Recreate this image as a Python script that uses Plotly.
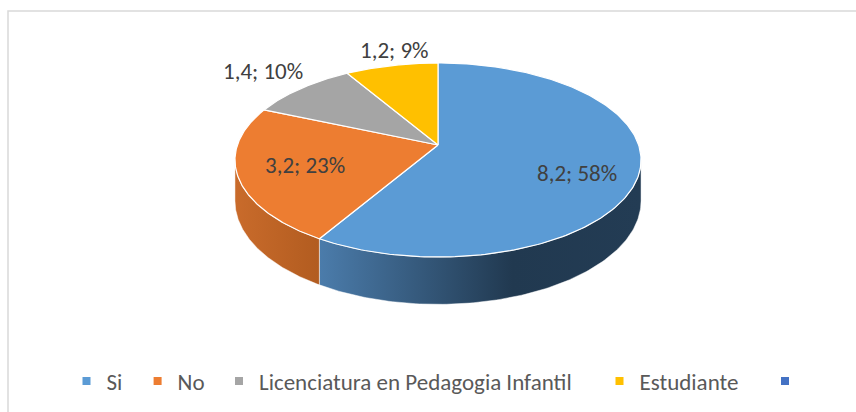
import numpy as np
import plotly.graph_objects as go

# ---------------- data ----------------
categories = ["Si", "No", "Licenciatura en Pedagogia Infantil", "Estudiante"]
values = [8.2, 3.2, 1.4, 1.2]
percent_labels = [58, 23, 10, 9]
extra_legend_name = " "

# ---------------- style ----------------
top_colors = ["#5B9BD5", "#ED7D31", "#A5A5A5", "#FFC000"]
side_scales = [
    [[0, "#4b7cab"], [0.6, "#213950"], [1, "#233c54"]],
    [[0, "#c96b2b"], [1, "#b25c20"]],
    [[0, "#8a8a8a"], [1, "#6e6e6e"]],
    [[0, "#d9a300"], [1, "#b88a00"]],
]
extra_legend_color = "#4472C4"
label_radius = [0.70, 0.70, 1.25, 1.24]
label_dx = [0, 5, -7, 12]
label_dy = [10, -1, -5, 1]
FONT = "Carlito, Calibri, Lato, sans-serif"
FSIZE = 23

# geometry of the projected pie (pixel-like axis units)
W, H = 856, 412
CX, CY = 438.0, 145.0
A, B = 200.6, 94.7
K = 0.1547      # perspective strength
D = 40.0        # thickness


def proj(phi, r=1.0, drop=0.0):
    u = r * np.sin(phi)
    v = r * np.cos(phi)
    w = 1 + K * v
    return CX + A * u / w, CY - B * v / w + drop / w


fig = go.Figure()

total = sum(values)
bounds = np.concatenate([[0], np.cumsum(values)]) / total * 2 * np.pi
vis_lo = np.arccos(-K)
vis_hi = 2 * np.pi - vis_lo

# side walls
for i in range(len(values)):
    a0, a1 = bounds[i], bounds[i + 1]
    lo, hi = max(a0, vis_lo), min(a1, vis_hi)
    if hi <= lo:
        continue
    ph = np.linspace(lo, hi, 120)
    xt, yt = proj(ph)
    xb, yb = proj(ph[::-1], drop=D)
    xs = np.concatenate([xt, xb, xt[:1]])
    ys = np.concatenate([yt, yb, yt[:1]])
    fig.add_trace(go.Scatter(
        x=xs, y=ys, mode="lines", fill="toself",
        fillgradient=dict(type="horizontal", colorscale=side_scales[i]),
        line=dict(color="rgba(255,255,255,0.6)", width=0.8),
        hoverinfo="skip", showlegend=False))

# top faces
for i in range(len(values)):
    a0, a1 = bounds[i], bounds[i + 1]
    ph = np.linspace(a0, a1, 200)
    xr, yr = proj(ph)
    cx0, cy0 = proj(0.0, r=0.0)
    xs = np.concatenate([[cx0], xr, [cx0]])
    ys = np.concatenate([[cy0], yr, [cy0]])
    fig.add_trace(go.Scatter(
        x=xs, y=ys, mode="lines", fill="toself", fillcolor=top_colors[i],
        line=dict(color="white", width=1.2),
        hoverinfo="skip", showlegend=False))

# data labels
for i in range(len(values)):
    mid = (bounds[i] + bounds[i + 1]) / 2
    lx, ly = proj(mid, r=label_radius[i])
    txt = f"{values[i]:.1f}".replace(".", ",") + f"; {percent_labels[i]}%"
    fig.add_annotation(x=lx + label_dx[i], y=ly + label_dy[i], xref="x", yref="y", text=txt,
                       showarrow=False, font=dict(family=FONT, size=FSIZE, color="#404040"))

# legend entries (one legend per entry for Excel-like spacing)
legend_x = [66.5, 137.6, 219, 599.5, 765]
names = categories + [extra_legend_name]
cols = top_colors + [extra_legend_color]
legend_layout = {}
for j, (nm, c) in enumerate(zip(names, cols)):
    key = "legend" if j == 0 else f"legend{j + 1}"
    fig.add_trace(go.Scatter(
        x=[None], y=[None], mode="markers", name=nm,
        marker=dict(symbol="square", size=8, color=c),
        legend=key))
    legend_layout[key] = dict(
        x=legend_x[j] / W, xanchor="left", y=1 - 381 / H, yanchor="middle",
        orientation="h", itemwidth=30, bgcolor="rgba(0,0,0,0)",
        font=dict(family=FONT, size=FSIZE, color="#595959"))

fig.update_layout(
    width=W, height=H,
    margin=dict(l=0, r=0, t=0, b=0),
    paper_bgcolor="white", plot_bgcolor="white",
    xaxis=dict(range=[0, W], visible=False, fixedrange=True),
    yaxis=dict(range=[H, 0], visible=False, fixedrange=True),
    showlegend=True,
    **legend_layout,
)

# chart border (extends beyond the right/bottom edges)
fig.add_shape(type="rect", xref="x", yref="y", x0=8, y0=11, x1=W + 20, y1=H + 20,
              line=dict(color="#d9d9d9", width=1.5), fillcolor="rgba(0,0,0,0)", layer="below")

fig.write_html("out.html", config={"displayModeBar": False},
               post_script="document.body.style.margin='0px';")
